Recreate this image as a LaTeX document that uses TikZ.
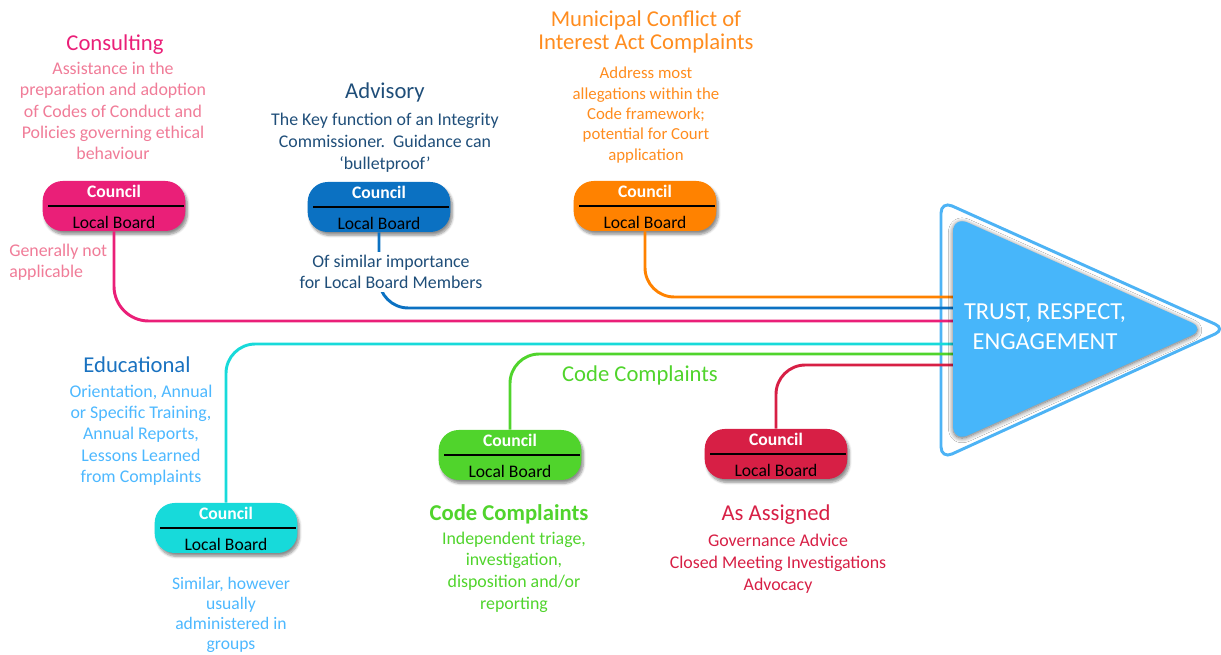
\documentclass[tikz,border=0pt]{standalone}
\usepackage{fontspec}
\setmainfont{Carlito}
\usetikzlibrary{shadows.blur}
\definecolor{pinkc}{HTML}{EA1F78}
\definecolor{pinktxt}{HTML}{F07C98}
\definecolor{bluec}{HTML}{0B71C2}
\definecolor{navytxt}{HTML}{1F4E79}
\definecolor{orangec}{HTML}{FF8200}
\definecolor{orangetxt}{HTML}{FF8C1E}
\definecolor{cyanc}{HTML}{17DADA}
\definecolor{edutxt}{HTML}{1A72C0}
\definecolor{skytxt}{HTML}{4DB8FF}
\definecolor{greenc}{HTML}{50D42C}
\definecolor{redc}{HTML}{D71F45}
\definecolor{trifill}{HTML}{47B6FA}
\definecolor{triline}{HTML}{4DB3F5}
\tikzset{
  pill/.style={rounded corners=15pt, minimum width=107pt, minimum height=37.5pt,
    blur shadow={shadow blur steps=6, shadow xshift=1.5pt, shadow yshift=-2.5pt, shadow opacity=45}},
  link/.style={line width=2.2pt, rounded corners=22pt},
  head/.style={font=\fontsize{17}{21}\selectfont, inner sep=0pt, align=center},
  body/.style={font=\fontsize{13.4}{16}\selectfont, inner sep=0pt, align=center},
}
\begin{document}
\begin{tikzpicture}[x=0.75pt, y=-0.75pt]
\useasboundingbox (0,0) rectangle (1221,655);
% outer outline of the arrow
\draw[line width=2.2pt, draw=triline, fill=white, rounded corners=9pt]
  (941,201) -- (1226,329) -- (941,459) -- cycle;
% the six pills
\foreach \n/\c/\x/\y in {consult/pinkc/114/206, advise/bluec/379/207, mcia/orangec/645/206,
                         educate/cyanc/226/528, code/greenc/510/455, assign/redc/776/454}
  {\node[pill, fill=\c] (\n) at (\x,\y) {};
   \draw[line width=0.9pt] (\n.west) ++(6,0) -- ([xshift=-1pt]\n.east);
   \node[font=\fontsize{13.2}{15}\selectfont\bfseries, text=white] (\n-top) at ([yshift=11pt]\n.center) {Council};
   \node[font=\fontsize{13.2}{15}\selectfont] (\n-bot) at ([yshift=-12pt]\n.center) {Local Board};
  };
% where the lines enter the arrow
\coordinate (in-mcia) at (954,297);
\coordinate (in-advise) at (954,308);
\coordinate (in-consult) at (954,321);
\coordinate (in-educate) at (954,344);
\coordinate (in-code) at (954,354);
\coordinate (in-assign) at (954,365);
\draw[link, orangec] (mcia.south) |- (in-mcia);
\draw[link, bluec] (advise.south) |- (in-advise);
\draw[link, pinkc, rounded corners=26pt] (consult.south) |- (in-consult);
\draw[link, cyanc] (educate.north) |- (in-educate);
\draw[link, greenc] (code.north) |- (in-code);
\draw[link, redc] (assign.north) |- (in-assign);
% inner arrow
\fill[trifill, rounded corners=12pt,
  blur shadow={shadow blur steps=8, shadow xshift=0pt, shadow yshift=-1pt, shadow opacity=60, shadow blur radius=3.5pt}]
  (953,216) -- (1206,329) -- (953,442) -- cycle;
\node[font=\fontsize{18.3}{22.5}\selectfont, text=white, align=center] (goal) at (1045,327)
  {TRUST, RESPECT,\\ENGAGEMENT};
% consulting
\node[head, text=pinkc] (consult-h) at (115,45) {Consulting};
\node[body, text=pinktxt] (consult-b) at (113,111)
  {Assistance in the\\preparation and adoption\\of Codes of Conduct and\\Policies governing ethical\\behaviour};
\node[body, text=pinktxt, align=left, anchor=west] (consult-lb) at (9,262) {Generally not\\applicable};
% advisory
\node[head, text=navytxt] (advise-h) at (385,92) {Advisory};
\node[body, text=navytxt, font=\fontsize{13.4}{16.5}\selectfont] (advise-b) at (385,143)
  {The Key function of an Integrity\\Commissioner.\ \ Guidance can\\‘bulletproof’};
\node[body, text=navytxt, fill=white, inner sep=2pt] (advise-lb) at (391,272)
  {Of similar importance\\for Local Board Members};
% municipal conflict of interest
\node[head, text=orangetxt, font=\fontsize{17}{17.3}\selectfont] (mcia-h) at (646,32)
  {Municipal Conflict of\\Interest Act Complaints};
\node[body, text=orangetxt, font=\fontsize{12.6}{15.2}\selectfont] (mcia-b) at (646,115)
  {Address most\\allegations within the\\Code framework;\\potential for Court\\application};
% educational
\node[head, text=edutxt] (educate-h) at (137,365) {Educational};
\node[body, text=skytxt] (educate-b) at (141,435)
  {Orientation, Annual\\or Specific Training,\\Annual Reports,\\Lessons Learned\\from Complaints};
\node[body, text=skytxt, font=\fontsize{13.2}{14.8}\selectfont] (educate-lb) at (231,615)
  {Similar, however\\usually\\administered in\\groups};
% code complaints
\node[head, text=greenc] (code-line) at (640,375) {Code Complaints};
\node[head, text=greenc, font=\fontsize{17}{21}\selectfont\bfseries] (code-h) at (509,514) {Code Complaints};
\node[body, text=greenc, font=\fontsize{13.4}{16.3}\selectfont] (code-b) at (514,572)
  {Independent triage,\\investigation,\\disposition and/or\\reporting};
% as assigned
\node[head, text=redc] (assign-h) at (776,515) {As Assigned};
\node[body, text=redc, font=\fontsize{13.4}{16.5}\selectfont] (assign-b) at (778,564)
  {Governance Advice\\Closed Meeting Investigations\\Advocacy};
\end{tikzpicture}
\end{document}
